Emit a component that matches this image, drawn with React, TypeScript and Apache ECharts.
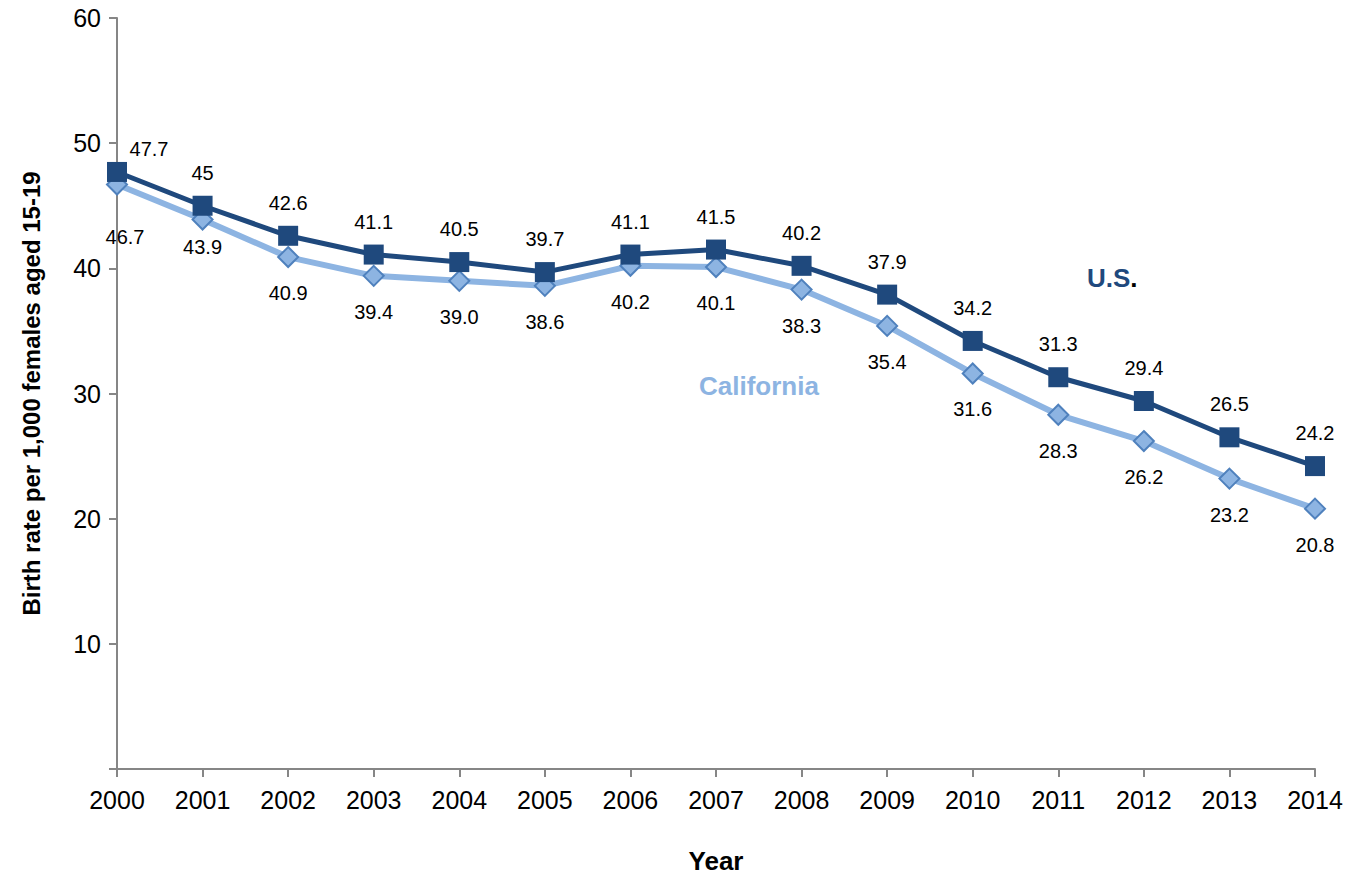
import React, { useEffect, useRef } from "react";
import * as echarts from "echarts";

const years = ["2000","2001","2002","2003","2004","2005","2006","2007","2008","2009","2010","2011","2012","2013","2014"];
const usRates = [47.7, 45, 42.6, 41.1, 40.5, 39.7, 41.1, 41.5, 40.2, 37.9, 34.2, 31.3, 29.4, 26.5, 24.2];
const caRates = [46.7, 43.9, 40.9, 39.4, 39.0, 38.6, 40.2, 40.1, 38.3, 35.4, 31.6, 28.3, 26.2, 23.2, 20.8];
const caLabels = ["46.7","43.9","40.9","39.4","39.0","38.6","40.2","40.1","38.3","35.4","31.6","28.3","26.2","23.2","20.8"];
const usLabels = ["47.7","45","42.6","41.1","40.5","39.7","41.1","41.5","40.2","37.9","34.2","31.3","29.4","26.5","24.2"];

const FONT = "'Liberation Sans', Arial, sans-serif";
const US_COLOR = "#1F497D";
const CA_COLOR = "#8DB4E2";
const CA_BORDER = "#4F81BD";

export default function App() {
  const ref = useRef<HTMLDivElement>(null);
  useEffect(() => {
    if (!ref.current) return;
    const chart = echarts.init(ref.current, null, { renderer: "svg" });
    const usData = usRates.map((v, i) => {
      const item: any = { value: v, label: { formatter: usLabels[i] } };
      if (i === 0) item.label.offset = [32, 10];
      return item;
    });
    const caData = caRates.map((v, i) => {
      const item: any = { value: v, label: { formatter: caLabels[i] } };
      if (i === 0) item.label.offset = [8, 17];
      if (i === 1) item.label.offset = [0, -9];
      return item;
    });
    chart.setOption({
      animation: false,
      textStyle: { fontFamily: FONT },
      grid: { left: 117, right: 46, top: 18, bottom: 104 },
      xAxis: {
        type: "category",
        data: years,
        boundaryGap: false,
        name: "Year",
        nameLocation: "middle",
        nameGap: 79,
        nameTextStyle: { fontFamily: FONT, fontSize: 26, fontWeight: "bold", color: "#000" },
        axisLine: { lineStyle: { color: "#868686", width: 2 } },
        axisTick: { show: true, length: 8, lineStyle: { color: "#868686", width: 2 }, alignWithLabel: true },
        axisLabel: { fontFamily: FONT, fontSize: 25, color: "#000", margin: 18 },
        splitLine: { show: false },
      },
      yAxis: {
        type: "value",
        min: 0,
        max: 60,
        interval: 10,
        name: "Birth rate per 1,000 females aged 15-19",
        nameLocation: "middle",
        nameGap: 74,
        nameRotate: 90,
        nameTextStyle: { fontFamily: FONT, fontSize: 24, fontWeight: "bold", color: "#000" },
        axisLine: { show: true, lineStyle: { color: "#868686", width: 2 } },
        axisTick: { show: true, length: 8, lineStyle: { color: "#868686", width: 2 } },
        axisLabel: {
          fontFamily: FONT,
          fontSize: 25,
          color: "#000",
          margin: 16,
          formatter: (v: number) => (v === 0 ? "" : String(v)),
        },
        splitLine: { show: false },
      },
      series: [
        {
          name: "California",
          type: "line",
          data: caData,
          symbol: "diamond",
          symbolSize: 20,
          lineStyle: { color: CA_COLOR, width: 6 },
          itemStyle: { color: CA_COLOR, borderColor: CA_BORDER, borderWidth: 2 },
          label: {
            show: true,
            position: "bottom",
            distance: 15,
            fontFamily: FONT,
            fontSize: 20,
            color: "#000",
          },
          z: 2,
        },
        {
          name: "U.S.",
          type: "line",
          data: usData,
          symbol: "rect",
          symbolSize: 20,
          lineStyle: { color: US_COLOR, width: 5 },
          itemStyle: { color: US_COLOR },
          label: {
            show: true,
            position: "top",
            distance: 13,
            fontFamily: FONT,
            fontSize: 20,
            color: "#000",
          },
          z: 3,
        },
      ],
      graphic: [
        {
          type: "text",
          left: 1087,
          top: 265,
          style: {
            text: "{a|U.S}{b|.}",
            rich: {
              a: { fontFamily: FONT, fontSize: 26, fontWeight: "bold", fill: US_COLOR },
              b: { fontFamily: FONT, fontSize: 26, fontWeight: "bold", fill: "#000" },
            },
          },
        },
        {
          type: "text",
          left: 699,
          top: 373,
          style: {
            text: "California",
            fontFamily: FONT,
            fontSize: 26,
            fontWeight: "bold",
            fill: CA_COLOR,
          },
        },
      ],
    });
    return () => chart.dispose();
  }, []);
  return (
    <div
      ref={ref}
      style={{ position: "fixed", left: 0, top: 0, width: 1361, height: 879, overflow: "hidden", background: "#fff" }}
    />
  );
}
